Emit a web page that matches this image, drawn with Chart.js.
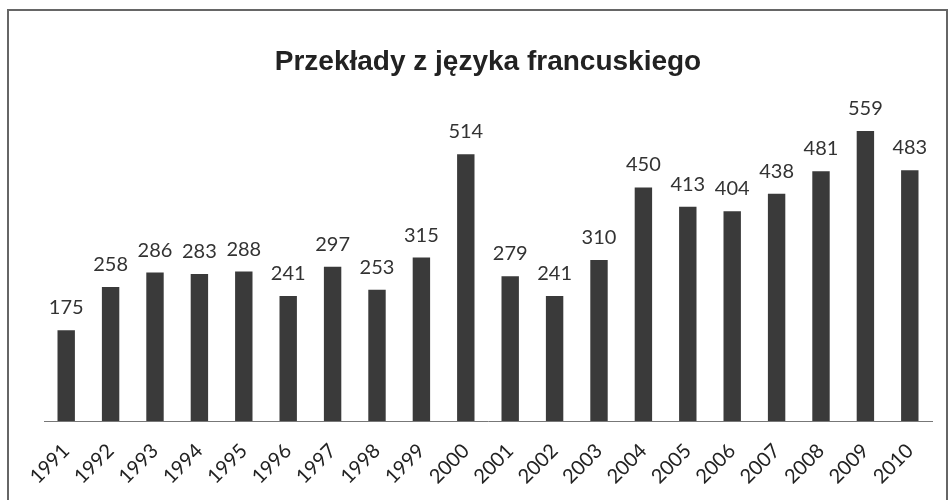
<!DOCTYPE html>
<html>
<head>
<meta charset="utf-8">
<script src="https://cdn.jsdelivr.net/npm/chart.js@4/dist/chart.umd.min.js"></script>
<style>
  html, body { margin: 0; padding: 0; background: #fff; }
  #wrap { position: relative; width: 951px; height: 500px; overflow: hidden; }
  #frame { position: absolute; left: 7px; top: 9px; width: 941px; height: 520px; border: 2px solid #666; box-sizing: border-box; }
  canvas { position: absolute; left: 0; top: 0; }
</style>
</head>
<body>
<div id="wrap">
  <div id="frame"></div>
  <canvas id="chart" width="951" height="500"></canvas>
</div>
<script>
// Lata i liczba przekładów
const years = ['1991','1992','1993','1994','1995','1996','1997','1998','1999','2000',
               '2001','2002','2003','2004','2005','2006','2007','2008','2009','2010'];
const counts = [175, 258, 286, 283, 288, 241, 297, 253, 315, 514,
                279, 241, 310, 450, 413, 404, 438, 481, 559, 483];
const chartTitle = 'Przekłady z języka francuskiego';

// Etykiety wartości nad słupkami
const valueLabels = {
    id: 'valueLabels',
    afterDatasetsDraw(chart) {
        const ctx = chart.ctx;
        const meta = chart.getDatasetMeta(0);
        ctx.save();
        ctx.font = '20px Lato, "Open Sans", sans-serif';
        ctx.fillStyle = '#333';
        ctx.textAlign = 'center';
        ctx.textBaseline = 'alphabetic';
        meta.data.forEach(function (bar, i) {
            ctx.fillText(String(counts[i]), bar.x, bar.y - 16);
        });
        ctx.restore();
    }
};

const ctx = document.getElementById('chart').getContext('2d');
window.myBarChart = new Chart(ctx, {
    type: 'bar',
    data: {
        labels: years,
        datasets: [{
            label: chartTitle,
            data: counts,
            backgroundColor: '#3a3a3a',
            barPercentage: 0.4,
            categoryPercentage: 0.98
        }]
    },
    options: {
        responsive: false,
        animation: false,
        layout: { padding: { left: 44, right: 19, top: 0, bottom: 0 } },
        plugins: {
            legend: { display: false },
            tooltip: { enabled: false },
            title: {
                display: true,
                text: chartTitle,
                color: '#222',
                font: { family: '"Liberation Sans", Arial, sans-serif', size: 28, weight: 'bold' },
                padding: { top: 45, bottom: 31 }
            }
        },
        scales: {
            x: {
                grid: { display: false },
                border: { display: true, color: '#777', width: 1 },
                afterFit: function (scale) { scale.height = 79; },
                ticks: {
                    color: '#222',
                    minRotation: 45,
                    maxRotation: 45,
                    padding: 10,
                    font: { family: 'Lato, "Open Sans", sans-serif', size: 20 }
                }
            },
            y: {
                display: false,
                min: 0,
                max: 600
            }
        }
    },
    plugins: [valueLabels]
});
</script>
</body>
</html>
